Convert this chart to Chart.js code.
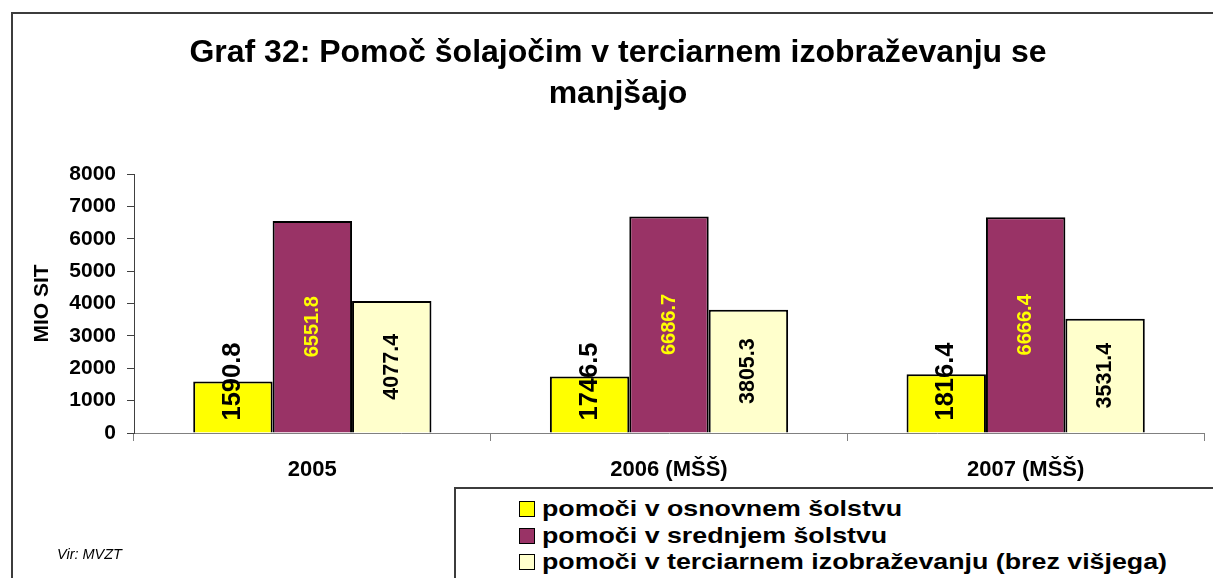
<!DOCTYPE html>
<html>
<head>
<meta charset="utf-8">
<script src="https://cdn.jsdelivr.net/npm/chart.js@4.4.0/dist/chart.umd.min.js"></script>
<style>
  html, body { margin: 0; padding: 0; background: #fff; }
  #wrap { position: relative; width: 1213px; height: 578px; overflow: hidden; background: #fff; }
  #c { position: absolute; left: 0; top: 0; }
  #frame { position: absolute; left: 11px; top: 12px; width: 1300px; height: 700px;
           border-left: 2px solid #3c3c3c; border-top: 2px solid #3c3c3c; box-sizing: border-box; pointer-events: none; }
  #legend { position: absolute; left: 454px; top: 487px; width: 900px; height: 200px; background: #fff;
            border-left: 2px solid #3c3c3c; border-top: 2px solid #3c3c3c; box-sizing: border-box; }
  .item { position: absolute; left: 63px; height: 26px; white-space: nowrap; }
  .mark { position: absolute; left: 0; top: 5px; width: 16px; height: 16px; box-sizing: border-box; border: 1.5px solid #000; }
  .txt { position: absolute; left: 23px; top: 0; line-height: 26px; font: bold 22.5px "Liberation Sans", Arial, sans-serif;
         color: #000; transform: scaleX(1.19); transform-origin: 0 50%; }
  #src { position: absolute; left: 57px; top: 546px; font: italic 14.5px "Liberation Sans", Arial, sans-serif; color: #000; }
</style>
</head>
<body>
<div id="wrap">
  <canvas id="c" width="1213" height="578"></canvas>
  <div id="frame"></div>
  <div id="legend"></div>
  <div id="src">Vir: MVZT</div>
</div>
<script>
// ---- data ----
const categories = ['2005', '2006 (MŠŠ)', '2007 (MŠŠ)'];
const seriesNames = [
  'pomoči v osnovnem šolstvu',
  'pomoči v srednjem šolstvu',
  'pomoči v terciarnem izobraževanju (brez višjega)'
];
const osnovno = [1590.8, 1746.5, 1816.4];
const srednje = [6551.8, 6686.7, 6666.4];
const terciarno = [4077.4, 3805.3, 3531.4];
const yMin = 0, yMax = 8000, yStep = 1000;
const titleLines = ['Graf 32: Pomoč šolajočim v terciarnem izobraževanju se', 'manjšajo'];
const yTitle = 'MIO SIT';

// ---- styles ----
const FONT = '"Liberation Sans", Arial, sans-serif';
const colors = ['#FFFF00', '#993366', '#FFFFCC'];
const labelStyles = [
  { size: 25.5, color: '#000', anchor: 'base', offset: 12 },
  { size: 20, color: '#FFFF00', anchor: 'center' },
  { size: 21.5, color: '#000', anchor: 'center' }
];
const seriesValues = [osnovno, srednje, terciarno];

const valueLabels = {
  id: 'valueLabels',
  afterDatasetsDraw(chart) {
    const ctx = chart.ctx;
    chart.data.datasets.forEach((ds, i) => {
      const meta = chart.getDatasetMeta(i);
      const st = labelStyles[i];
      meta.data.forEach((bar, j) => {
        const text = ds.data[j].toFixed(1);
        ctx.save();
        ctx.font = 'bold ' + st.size + 'px ' + FONT;
        const w = ctx.measureText(text).width;
        let cy;
        if (st.anchor === 'base') cy = bar.base - st.offset - w / 2;
        else cy = (bar.y + bar.base) / 2;
        ctx.translate(bar.x, cy);
        ctx.rotate(-Math.PI / 2);
        ctx.fillStyle = st.color;
        ctx.textAlign = 'center';
        ctx.textBaseline = 'middle';
        ctx.fillText(text, 0, 0);
        ctx.restore();
      });
    });
  }
};

new Chart(document.getElementById('c'), {
  type: 'bar',
  data: {
    labels: categories,
    datasets: seriesValues.map((vals, i) => ({
      label: seriesNames[i],
      data: vals,
      backgroundColor: colors[i],
      borderColor: '#000',
      borderWidth: 2,
      categoryPercentage: 0.668,
      barPercentage: 1.0
    }))
  },
  options: {
    responsive: false,
    animation: false,
    events: [],
    layout: { padding: { left: 32, right: 9, top: 0, bottom: 0 } },
    plugins: {
      legend: { display: false },
      tooltip: { enabled: false },
      title: {
        display: true,
        text: titleLines,
        color: '#000',
        font: { family: FONT, size: 32, weight: 'bold', lineHeight: 41 / 32 },
        padding: { top: 32.5, bottom: 59.5 }
      }
    },
    scales: {
      x: {
        grid: { display: true, drawOnChartArea: false, drawTicks: true, tickLength: 8, color: '#808080', lineWidth: 1, offset: true },
        border: { display: true, color: '#808080', width: 1 },
        ticks: { color: '#000', font: { family: FONT, size: 22, weight: 'bold' }, padding: 16 },
        afterFit: s => { s.height = 145; }
      },
      y: {
        min: yMin, max: yMax,
        ticks: { stepSize: yStep, color: '#000', font: { family: FONT, size: 21, weight: 'bold' }, padding: 11,
                 callback: v => String(v) },
        grid: { display: true, drawOnChartArea: false, drawTicks: true, tickLength: 7, color: '#404040', lineWidth: 1 },
        border: { display: true, color: '#404040', width: 1 },
        title: { display: true, text: yTitle, color: '#000', font: { family: FONT, size: 21, weight: 'bold', lineHeight: 1 }, padding: { top: 0, bottom: 0 } },
        afterFit: s => { s.width = 102; }
      }
    }
  },
  plugins: [valueLabels]
});

// legend (HTML) built from the series names and colours
const legend = document.getElementById('legend');
seriesNames.forEach((name, i) => {
  const item = document.createElement('div');
  item.className = 'item';
  item.style.top = (7 + i * 26.5) + 'px';
  const m = document.createElement('div');
  m.className = 'mark';
  m.style.background = colors[i];
  const t = document.createElement('span');
  t.className = 'txt';
  t.textContent = name;
  item.appendChild(m);
  item.appendChild(t);
  legend.appendChild(item);
});
</script>
</body>
</html>
